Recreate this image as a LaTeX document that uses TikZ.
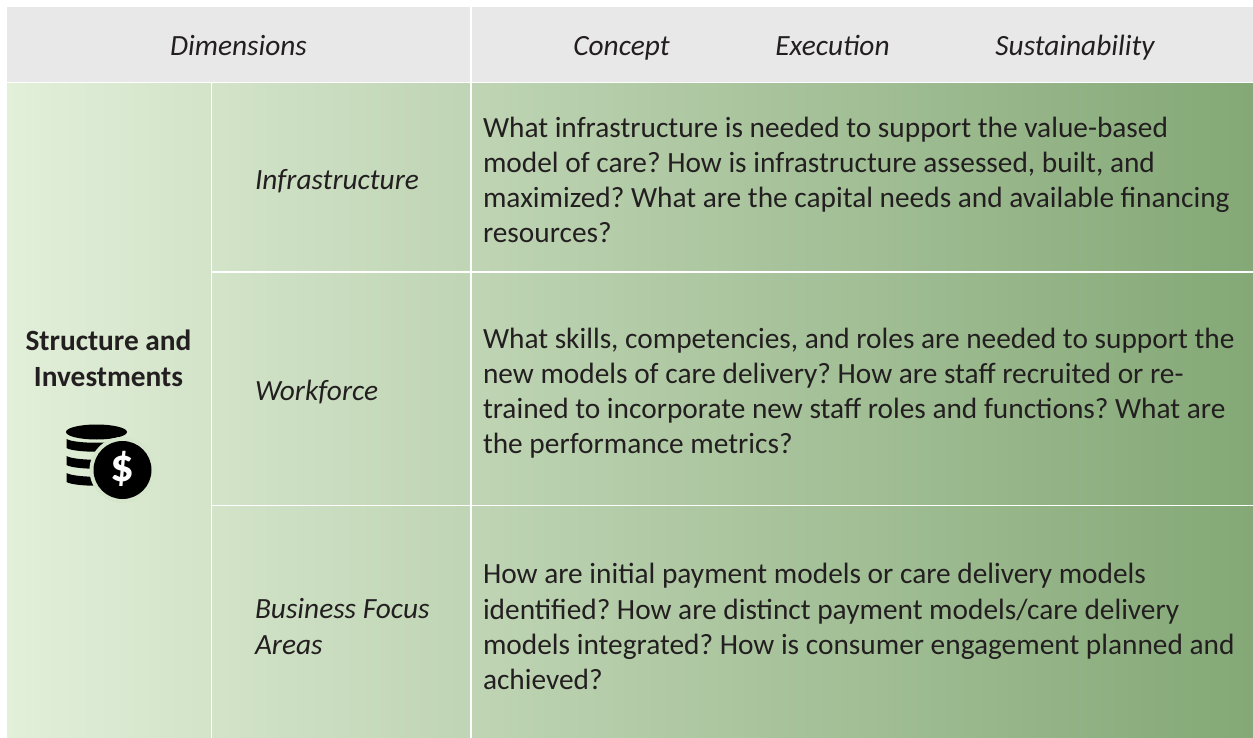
\documentclass[tikz,border=0pt]{standalone}
\usepackage{fontspec}
\setmainfont{Carlito}
\definecolor{gradL}{RGB}{226,239,217}
\definecolor{gradR}{RGB}{132,168,118}
\definecolor{headgrey}{RGB}{232,232,232}
\definecolor{inkc}{RGB}{35,31,32}
\definecolor{haloc}{RGB}{214,230,204}
\tikzset{
  x=1pt,y=-1pt,
  txt/.style={inner sep=0pt,outer sep=0pt,text=inkc,font=\fontsize{29.35}{35.1}\selectfont\frenchspacing},
  headtxt/.style={txt,font=\fontsize{29.35}{35.1}\selectfont\itshape,anchor=base},
  dimtxt/.style={txt,font=\fontsize{29.35}{36}\selectfont\itshape,anchor=west,align=left},
  bodytxt/.style={txt,anchor=west,align=left},
  gridline/.style={white,line width=1.3pt},
}
\begin{document}
\begin{tikzpicture}
\useasboundingbox (0,0) rectangle (1253,738);
\fill[white] (0,0) rectangle (1253,738);
\shade[left color=gradL,right color=gradR] (7,82) rectangle (1253,738);
\fill[headgrey] (7,7) rectangle (1253,82);
% grid
\coordinate (hl) at (7,82.5); \coordinate (hr) at (1253,82.5);
\coordinate (c1t) at (211.5,82); \coordinate (c1b) at (211.5,738);
\coordinate (c2t) at (471,7); \coordinate (c2b) at (471,738);
\coordinate (r1l) at (211.5,272); \coordinate (r1r) at (1253,272);
\coordinate (r2l) at (211.5,505.5); \coordinate (r2r) at (1253,505.5);
\draw[gridline] (hl) -- (hr);
\draw[gridline] (c1t) -- (c1b);
\draw[gridline] (c2t) -- (c2b);
\draw[gridline] (r1l) -- (r1r);
\draw[gridline] (r2l) -- (r2r);
% header
\node[headtxt] (dim) at (238.5,56) {Dimensions};
\node[headtxt] (con) at (621.5,56) {Concept};
\node[headtxt] (exe) at (832.5,56) {Execution};
\node[headtxt] (sus) at (1075,56) {Sustainability};
% second column
\node[dimtxt,anchor=base west] (inf) at (255,189.5) {Infrastructure};
\node[dimtxt,anchor=base west] (wor) at (255,400.5) {Workforce};
\node[dimtxt] (bus) at (255,626.5) {Business Focus\\Areas};
% first column
\node[txt,font=\fontsize{29.35}{36}\selectfont\bfseries,align=center] (str) at (108.5,358) {Structure and\\Investments};
% body
\node[bodytxt] (b1) at (483,180) {What infrastructure is needed to support the value-based\\model of care? How is infrastructure assessed, built, and\\maximized? What are the capital needs and available financing\\resources?};
\node[bodytxt] (b2) at (483,393) {What skills, competencies, and roles are needed to support the\\new models of care delivery? How are staff recruited or re-\\trained to incorporate new staff roles and functions? What are\\the performance metrics?};
\node[bodytxt] (b3) at (483,626.5) {How are initial payment models or care delivery models\\identified? How are distinct payment models/care delivery\\models integrated? How is consumer engagement planned and\\achieved?};
% icon
\fill[black] (96.5,432) ellipse [x radius=30.5,y radius=7.5];
\foreach \t in {439,456,473}{
  \fill[black] (66.5,\t) .. controls (75,\t+5) and (118,\t+5) .. (126.5,\t) -- (126.5,\t+9)
     .. controls (118,\t+14) and (75,\t+14) .. (66.5,\t+9) -- cycle;
}
\fill[haloc] (122.5,470) circle [radius=33];
\fill[black] (122.5,470) circle [radius=29];
\node[inner sep=0pt,text=white,font=\fontsize{47}{47}\selectfont\bfseries] (dollar) at (122.5,469) {\$};
\end{tikzpicture}
\end{document}
